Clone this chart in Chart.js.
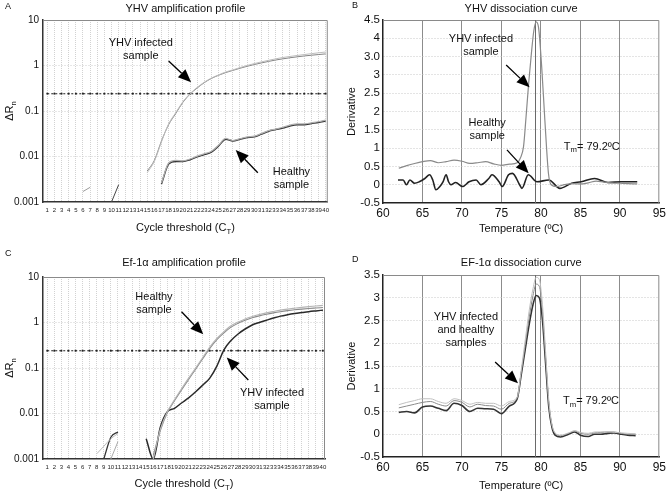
<!DOCTYPE html>
<html>
<head>
<meta charset="utf-8">
<script src="https://cdn.jsdelivr.net/npm/chart.js@4.4.1/dist/chart.umd.min.js"></script>
<style>
html, body { margin: 0; padding: 0; background: #fff; }
#fig { position: relative; width: 669px; height: 493px; overflow: hidden; background: #fff; }
#fig canvas { position: absolute; }
</style>
</head>
<body>
<div id="fig">
  <canvas id="chartA" width="334" height="245" style="left:0;top:0"></canvas>
  <canvas id="chartB" width="335" height="245" style="left:334px;top:0"></canvas>
  <canvas id="chartC" width="334" height="248" style="left:0;top:245px"></canvas>
  <canvas id="chartD" width="335" height="248" style="left:334px;top:245px"></canvas>
</div>
<script>
// ---- données ----
const cycles = [1,2,3,4,5,6,7,8,9,10,11,12,13,14,15,16,17,18,19,20,21,22,23,24,25,26,27,28,29,30,31,32,33,34,35,36,37,38,39,40];
const decades = [0.001, 0.01, 0.1, 1, 10];
const threshold = 0.24;

// A : YHV amplification
const aInfectedCycles = cycles.slice(14);   // 15..40
const aInfected1 = [0.0044,0.0078,0.021,0.052,0.092,0.16,0.24,0.33,0.43,0.53,0.62,0.72,0.8,0.9,1.0,1.1,1.2,1.3,1.4,1.5,1.58,1.66,1.74,1.82,1.9,1.98];
const aInfected2 = [0.0048,0.0082,0.022,0.05,0.088,0.155,0.235,0.32,0.42,0.52,0.61,0.7,0.78,0.87,0.96,1.05,1.14,1.23,1.32,1.4,1.48,1.55,1.62,1.68,1.74,1.8];
const aHealthyCycles = cycles.slice(16);    // 17..40
const aHealthy1 = [0.0025,0.0068,0.0078,0.0078,0.0085,0.0098,0.011,0.0125,0.017,0.024,0.022,0.024,0.026,0.027,0.031,0.036,0.039,0.042,0.047,0.05,0.05,0.053,0.056,0.06];
const aHealthy2 = [0.0026,0.0072,0.0082,0.008,0.0088,0.0102,0.0115,0.013,0.0178,0.025,0.0225,0.0245,0.027,0.028,0.032,0.037,0.04,0.044,0.049,0.052,0.052,0.055,0.058,0.063];
const aFrag1Cycles = [6, 7];
const aFrag1 = [0.0017, 0.0021];
const aFrag2Cycles = [10, 11];
const aFrag2 = [0.001, 0.0024];

// C : Ef-1a amplification
const cHealthyCycles = cycles.slice(15);    // 16..40
const cHealthy1 = [0.001,0.0045,0.011,0.02,0.035,0.06,0.1,0.17,0.29,0.45,0.63,0.85,1.02,1.2,1.35,1.5,1.63,1.75,1.87,1.97,2.06,2.15,2.23,2.3,2.38];
const cHealthy2 = [0.0012,0.0042,0.0105,0.019,0.033,0.056,0.094,0.16,0.27,0.42,0.59,0.79,0.96,1.12,1.27,1.4,1.52,1.63,1.73,1.82,1.9,1.97,2.03,2.08,2.13];
const cInfectedCycles = cycles.slice(14);   // 15..40
const cInfected = [0.0028,0.001,0.005,0.011,0.013,0.017,0.022,0.03,0.042,0.06,0.11,0.25,0.4,0.56,0.72,0.88,1.0,1.12,1.25,1.38,1.48,1.57,1.65,1.73,1.8,1.87];
const cFrag1Cycles = [9, 10, 11];
const cFrag1 = [0.001, 0.003, 0.0039];
const cFrag2Cycles = [8, 9, 10, 11];
const cFrag2 = [0.0013, 0.0019, 0.0028, 0.0036];
const cFrag3Cycles = [10, 11];
const cFrag3 = [0.001, 0.0024];

// B : YHV dissociation
const bInfTemp = [62,63,64,65,66,67,68,69,70,71,72,73,74,75,76,77,77.4,77.8,78.1,78.45,78.8,79.1,79.4,79.7,80.1,80.5,80.95,81.3,82,83,84,85,86,87,88,89,90,91,92.2];
const bInfected = [0.45,0.52,0.58,0.63,0.66,0.6,0.63,0.67,0.64,0.58,0.6,0.63,0.57,0.53,0.56,0.6,0.73,1.04,1.8,2.77,3.6,4.2,4.45,4.3,3.22,1.77,0.32,0.0,-0.05,0.0,0.03,0.02,0.05,0.1,0.07,0.05,0.04,0.03,0.02];
const bHealthyTemp = [61.9,62.55,62.97,63.4,64.0,64.6,65.3,65.9,66.3,66.7,67.2,67.6,68.0,68.3,68.6,69.2,70.1,70.9,71.8,72.4,73.4,73.8,74.7,75.1,75.9,76.4,77.3,77.6,78.4,79.5,81.0,82.4,83.9,85.1,86.8,88.5,90.2,92.2];
const bHealthy = [0.13,0.13,0.0,0.13,0.04,0.08,0.17,0.27,0.13,-0.14,-0.05,0.08,0.27,0.08,0.0,0.06,-0.05,0.08,0.13,0.0,0.17,0.27,0.08,-0.05,0.27,0.31,0.0,-0.1,0.27,0.08,0.13,-0.1,0.04,0.08,0.17,0.06,0.08,0.08];
const bTicks = [-0.5,0,0.5,1,1.5,2,2.5,3,3.5,4,4.5];
const bTickLabels = ['-0.5','0','0.5','1','1.5','2','2.5','3','3.0','4','4.5'];

// D : EF-1a dissociation
const dTemp = [62,63,64,65,66,67,68,69,70,71,72,73,74,75,76,77,77.5,78,78.5,79,79.4,79.8,80.2,80.6,81,81.4,81.8,82.5,83.5,84.3,85,86,86.8,87.6,88.5,89.3,90.2,91,92];
const dDark  = [0.48,0.5,0.47,0.6,0.62,0.57,0.52,0.68,0.63,0.5,0.57,0.56,0.55,0.45,0.62,0.78,1.3,1.85,2.4,2.85,3.05,3.0,2.5,1.55,0.6,0.15,-0.02,-0.06,0.0,0.05,-0.02,-0.05,0.0,0.0,0.02,0.03,0.0,-0.02,-0.03];
const dMid   = [0.58,0.62,0.66,0.7,0.72,0.66,0.62,0.74,0.7,0.6,0.66,0.63,0.62,0.55,0.68,0.8,1.35,1.95,2.55,3.05,3.3,3.25,2.7,1.7,0.7,0.2,0.02,-0.03,0.02,0.07,0.02,0.0,0.03,0.04,0.05,0.05,0.02,0.0,0.0];
const dLight = [0.65,0.7,0.74,0.78,0.78,0.72,0.68,0.78,0.74,0.66,0.7,0.68,0.68,0.62,0.72,0.82,1.4,2.05,2.7,3.2,3.45,3.4,2.85,1.8,0.75,0.22,0.03,-0.02,0.03,0.08,0.04,0.02,0.05,0.05,0.06,0.04,0.03,0.02,0.01];
const dTicks = [-0.5,0,0.5,1,1.5,2,2.5,3,3.5];
const dTickLabels = ['-0.5','0','0.5','1','1.5','2','2.5','3','3.5'];
const tmLine = 79.3;

// ---- outils de dessin ----
const FONT = '"Liberation Sans", Arial, Helvetica, sans-serif';
Chart.defaults.font.family = FONT;
Chart.defaults.color = '#111';

function setFont(ctx, size) { ctx.font = size + 'px ' + FONT; }

// texte avec indices : parts = [[texte, estIndice], ...]
function drawRich(ctx, parts, x, y, size, align) {
  let w = 0;
  parts.forEach(p => { setFont(ctx, p[1] ? size * 0.7 : size); w += ctx.measureText(p[0]).width; });
  let cx = align === 'left' ? x : x - w / 2;
  parts.forEach(p => {
    const s = p[1] ? size * 0.7 : size;
    setFont(ctx, s);
    ctx.fillText(p[0], cx, p[1] ? y + size * 0.32 : y);
    cx += ctx.measureText(p[0]).width;
  });
}

function drawArrow(ctx, x1, y1, x2, y2) {
  const ang = Math.atan2(y2 - y1, x2 - x1);
  const hl = 13, hw = 5.5;
  const bx = x2 - hl * Math.cos(ang), by = y2 - hl * Math.sin(ang);
  ctx.strokeStyle = '#000';
  ctx.lineWidth = 1.3;
  ctx.beginPath(); ctx.moveTo(x1, y1); ctx.lineTo(bx, by); ctx.stroke();
  ctx.fillStyle = '#000';
  ctx.beginPath();
  ctx.moveTo(x2, y2);
  ctx.lineTo(bx + hw * Math.sin(ang), by - hw * Math.cos(ang));
  ctx.lineTo(bx - hw * Math.sin(ang), by + hw * Math.cos(ang));
  ctx.closePath();
  ctx.fill();
}

function pts(xs, ys) { return xs.map((v, i) => ({ x: v, y: ys[i] })); }

// annotations de chaque panneau
const decos = {
  chartA: {
    letter: 'A', letterAt: [5, 7], title: 'YHV amplification profile', titleY: 9,
    xTitle: [['Cycle threshold (C'], ['T', 1], [')']], xTitleGap: 26,
    yTitle: [['\u0394R'], ['n', 1]], yTitleX: 10,
    notes: [
      { x: 14.1, y: 3.1, lines: [[['YHV infected']], [['sample']]] },
      { x: 35.2, y: 0.0046, lines: [[['Healthy']], [['sample']]] }
    ],
    arrows: [[18.0, 1.26, 21.15, 0.43], [30.5, 0.0044, 27.4, 0.0139]]
  },
  chartB: {
    letter: 'B', letterAt: [18, 6], title: 'YHV dissociation curve', titleY: 9,
    xTitle: [['Temperature (\u00baC)']], xTitleGap: 26,
    yTitle: [['Derivative']], yTitleX: 18, vline: tmLine,
    notes: [
      { x: 72.4, y: 3.97, lines: [[['YHV infected']], [['sample']]] },
      { x: 73.2, y: 1.69, lines: [[['Healthy']], [['sample']]] },
      { x: 82.9, y: 1.04, align: 'left', lines: [[['T'], ['m', 1], ['= 79.2\u00baC']]] }
    ],
    arrows: [[75.6, 3.27, 78.57, 2.66], [75.7, 0.95, 78.45, 0.31]]
  },
  chartC: {
    letter: 'C', letterAt: [5, 9], title: 'Ef-1\u03b1 amplification profile', titleY: 18,
    xTitle: [['Cycle threshold (C'], ['T', 1], [')']], xTitleGap: 25,
    yTitle: [['\u0394R'], ['n', 1]], yTitleX: 10,
    notes: [
      { x: 16.1, y: 3.7, lines: [[['Healthy']], [['sample']]] },
      { x: 32.8, y: 0.0278, lines: [[['YHV infected']], [['sample']]] }
    ],
    arrows: [[20.0, 1.72, 23.07, 0.55], [29.45, 0.0545, 26.4, 0.17]]
  },
  chartD: {
    letter: 'D', letterAt: [18, 15], title: 'EF-1\u03b1 dissociation curve', titleY: 18,
    xTitle: [['Temperature (\u00baC)']], xTitleGap: 29,
    yTitle: [['Derivative']], yTitleX: 18, vline: tmLine,
    notes: [
      { x: 70.5, y: 2.58, lines: [[['YHV infected']], [['and healthy']], [['samples']]] },
      { x: 82.8, y: 0.73, align: 'left', lines: [[['T'], ['m', 1], ['= 79.2\u00baC']]] }
    ],
    arrows: [[74.2, 1.59, 77.1, 1.12]]
  }
};

const decoPlugin = {
  id: 'deco',
  beforeDatasetsDraw(chart) {
    const o = decos[chart.canvas.id];
    const { ctx, chartArea: a, scales: { x } } = chart;
    ctx.save();
    ctx.strokeStyle = '#8a8a8a';
    ctx.lineWidth = 1;
    ctx.beginPath();
    ctx.moveTo(a.left, a.top + 0.5);
    ctx.lineTo(a.right - 0.5, a.top + 0.5);
    ctx.lineTo(a.right - 0.5, a.bottom);
    ctx.stroke();
    if (o.vline) {
      const px = Math.round(x.getPixelForValue(o.vline)) + 0.5;
      ctx.strokeStyle = '#6a6a6a';
      ctx.beginPath(); ctx.moveTo(px, a.top); ctx.lineTo(px, a.bottom); ctx.stroke();
    }
    ctx.restore();
  },
  afterDraw(chart) {
    const o = decos[chart.canvas.id];
    const { ctx, chartArea: a, scales: { x, y } } = chart;
    const cx = (a.left + a.right) / 2;
    ctx.save();
    ctx.fillStyle = '#111';
    ctx.textBaseline = 'middle';
    ctx.textAlign = 'left';
    setFont(ctx, 9);
    ctx.fillText(o.letter, o.letterAt[0], o.letterAt[1]);
    drawRich(ctx, [[o.title]], cx, o.titleY, 11, 'center');
    drawRich(ctx, o.xTitle, cx, a.bottom + o.xTitleGap, 11, 'center');
    ctx.save();
    ctx.translate(o.yTitleX, (a.top + a.bottom) / 2);
    ctx.rotate(-Math.PI / 2);
    drawRich(ctx, o.yTitle, 0, 0, 11, 'center');
    ctx.restore();
    o.notes.forEach(n => {
      const px = x.getPixelForValue(n.x), py = y.getPixelForValue(n.y);
      n.lines.forEach((l, i) => drawRich(ctx, l, px, py + i * 13, 11, n.align || 'center'));
    });
    o.arrows.forEach(r => drawArrow(ctx,
      x.getPixelForValue(r[0]), y.getPixelForValue(r[1]),
      x.getPixelForValue(r[2]), y.getPixelForValue(r[3])));
    ctx.restore();
  }
};
Chart.register(decoPlugin);

// ---- fabrique des graphes ----
function line(data, color, width) {
  return { data: data, borderColor: color, borderWidth: width, pointRadius: 0, fill: false, cubicInterpolationMode: 'monotone' };
}

function thresholdSet() {
  return {
    data: cycles.map(c => ({ x: c, y: threshold })),
    borderColor: '#222', borderWidth: 1.1, borderDash: [2, 2],
    pointRadius: 1.3, pointStyle: 'rect', pointBackgroundColor: '#222', pointBorderWidth: 0,
    fill: false, tension: 0
  };
}

function edgeless(color) {
  return c => (c.index === 0 || c.index === c.scale.ticks.length - 1) ? 'rgba(0,0,0,0)' : color;
}

function ampChart(id, datasets, rightPad, axisH, topPad, xRange) {
  return new Chart(document.getElementById(id), {
    type: 'line',
    data: { datasets: datasets },
    options: {
      responsive: false, animation: false, events: [],
      layout: { padding: { top: topPad, right: rightPad, left: 0, bottom: 0 } },
      plugins: { legend: { display: false }, tooltip: { enabled: false } },
      scales: {
        x: {
          type: 'linear', min: xRange[0], max: xRange[1],
          afterBuildTicks: s => { s.ticks = cycles.map(c => ({ value: c })); },
          afterFit: s => { s.height = axisH; },
          ticks: { autoSkip: false, maxRotation: 0, minRotation: 0, padding: 5, font: { size: 6 }, color: '#222', callback: v => String(v) },
          grid: { color: '#d2d2d2', lineWidth: 1, drawTicks: false },
          border: { display: true, color: '#333', width: 1.5, dash: [1, 1] }
        },
        y: {
          type: 'logarithmic', min: 0.001, max: 10,
          afterBuildTicks: s => { s.ticks = decades.map(v => ({ value: v })); },
          afterFit: s => { s.width = 43; },
          ticks: { padding: 4, font: { size: 10 }, color: '#111', callback: v => String(v) },
          grid: { color: edgeless('#cfcfcf'), lineWidth: 1, drawTicks: false },
          border: { display: true, color: '#333', width: 1.5, dash: [1, 2] }
        }
      }
    }
  });
}

function dissChart(id, datasets, yMin, yMax, tickVals, tickLabels, axisH, topPad) {
  return new Chart(document.getElementById(id), {
    type: 'line',
    data: { datasets: datasets },
    options: {
      responsive: false, animation: false, events: [],
      layout: { padding: { top: topPad, right: 7, left: 0, bottom: 0 } },
      plugins: { legend: { display: false }, tooltip: { enabled: false } },
      scales: {
        x: {
          type: 'linear', min: 60, max: 95,
          afterFit: s => { s.height = axisH; },
          ticks: { stepSize: 5, padding: 3, font: { size: 12 }, color: '#111', maxRotation: 0 },
          grid: { color: edgeless('#8c8c8c'), lineWidth: 1, drawTicks: false },
          border: { display: true, color: '#222', width: 1.5 }
        },
        y: {
          type: 'linear', min: yMin, max: yMax,
          afterBuildTicks: s => { s.ticks = tickVals.map(v => ({ value: v })); },
          afterFit: s => { s.width = 49; },
          ticks: { padding: 3, font: { size: 11.5 }, color: '#111', callback: (v, i) => tickLabels[i] },
          grid: { color: edgeless('#c8c8c8'), lineWidth: 1, drawTicks: false },
          border: { display: true, color: '#222', width: 1.5, dash: [1, 2] }
        }
      }
    }
  });
}

ampChart('chartA', [
  line(pts(aFrag1Cycles, aFrag1), '#9a9a9a', 1),
  line(pts(aFrag2Cycles, aFrag2), '#444', 1),
  line(pts(aInfectedCycles, aInfected1), '#bdbdbd', 1),
  line(pts(aInfectedCycles, aInfected2), '#858585', 1),
  line(pts(aHealthyCycles, aHealthy2), '#b0b0b0', 1.2),
  line(pts(aHealthyCycles, aHealthy1), '#333', 1.5),
  thresholdSet()
], 4, 43, 20, [0.4, 40.3]);

ampChart('chartC', [
  line(pts(cFrag2Cycles, cFrag2), '#bbb', 1),
  line(pts(cFrag3Cycles, cFrag3), '#aaa', 1),
  line(pts(cFrag1Cycles, cFrag1), '#333', 1.3),
  line(pts(cHealthyCycles, cHealthy1), '#b5b5b5', 1.1),
  line(pts(cHealthyCycles, cHealthy2), '#8a8a8a', 1.1),
  line(pts(cInfectedCycles, cInfected), '#2a2a2a', 1.5),
  thresholdSet()
], 9, 34, 32, [0.4, 40.3]);

dissChart('chartB', [
  line(pts(bInfTemp, bInfected), '#8a8a8a', 1.2),
  line(pts(bHealthyTemp, bHealthy), '#222', 1.6)
], -0.5, 4.5, bTicks, bTickLabels, 42, 20);

dissChart('chartD', [
  line(pts(dTemp, dLight), '#c0c0c0', 1),
  line(pts(dTemp, dMid), '#8a8a8a', 1),
  line(pts(dTemp, dDark), '#333', 1.6)
], -0.5, 3.5, dTicks, dTickLabels, 36, 30);
</script>
</body>
</html>
